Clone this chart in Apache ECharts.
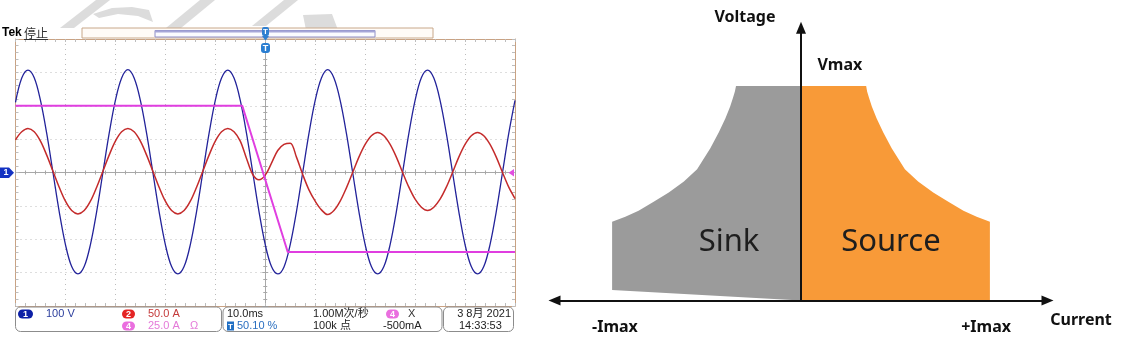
<!DOCTYPE html>
<html>
<head>
<meta charset="utf-8">
<script src="https://cdn.jsdelivr.net/npm/echarts@6/dist/echarts.min.js"></script>
<style>
  html, body { margin: 0; padding: 0; background: #ffffff; }
  #chart { width: 1121px; height: 346px; }
</style>
</head>
<body>
<div id="chart"></div>
<script>
// ---- Scope capture: 10 ms/div, samples every 1.25 ms from -50 ms ----
const sampleStartMs = -50;
const sampleStepMs = 1.25;

// CH1 voltage (V), 100 V/div
const ch1Volts = [
  210, 283,
  307, 284, 216, 117, 0, -117, -216, -282, -304, -282, -216, -117, 0, 117, 216, 283,
  308, 283, 216, 117, 0, -117, -216, -282, -304, -282, -216, -117, 0, 117, 216, 283,
  307, 283, 216, 117, 0, -117, -216, -282, -304, -283, -216, -117, 0, 117, 216, 283,
  308, 283, 216, 117, 0, -117, -216, -282, -304, -282, -216, -117, 0, 117, 216, 284,
  307, 283, 216, 117, 0, -117, -216, -282, -304, -282, -216, -117, 0, 117, 216
];

// CH2 current (A), 50 A/div
const ch2Amps = [
  49, 61,
  66, 61, 47, 26, 2, -22, -43, -57, -62, -57, -43, -22, 2, 26, 47, 61,
  66, 61, 47, 26, 2, -22, -43, -57, -62, -57, -43, -22, 2, 26, 47, 61,
  66, 61, 47, 21, -3, -11, -4, 14, 33, 42, 44, 23, -3, -26, -43, -56,
  -63, -57, -43, -23, 0, 23, 42, 55, 60, 55, 42, 23, 0, -22, -40, -52,
  -57, -52, -40, -22, 0, 23, 42, 55, 60, 55, 42, 23, 0, -22, -39
];

// CH4 current reference (A), 25 A/div
const ch4TimesMs = [-50, -4.6, 4.5, 50];
const ch4Amps = [50, 50, -59.5, -59.5];

// ---- Operating envelope: current in units of Imax, voltage in units of Vmax ----
const sourceCurrent = [0, 0, 0.345, 0.35, 0.36, 0.375, 0.40, 0.435, 0.48, 0.55, 0.62, 0.70, 0.78, 0.86, 0.93, 1.0, 1.0];
const sourceVoltage = [0, 1, 1, 0.975, 0.945, 0.905, 0.85, 0.785, 0.71, 0.612, 0.555, 0.503, 0.46, 0.418, 0.39, 0.367, 0];
const sinkCurrent = [0, 0, -0.344, -0.35, -0.36, -0.375, -0.40, -0.435, -0.48, -0.55, -0.62, -0.70, -0.78, -0.86, -0.93, -1.0, -1.0];
const sinkVoltage = [0, 1, 1, 0.975, 0.945, 0.905, 0.85, 0.785, 0.71, 0.612, 0.555, 0.503, 0.46, 0.418, 0.39, 0.367, 0.049];

const envLabelText = ['Sink', 'Source', 'Vmax', '-Imax', '+Imax'];
const envLabelCurrent = [-0.381, 0.476, 0.206, -0.985, 0.98];
const envLabelVoltage = [0.274, 0.274, 1.095, -0.124, -0.124];

// ---- helpers ----
const sampleTimes = ch1Volts.map((_, i) => sampleStartMs + i * sampleStepMs);
const pairs = (xs, ys) => xs.map((x, i) => [x, ys[i]]);

const scopeBox = { left: 15.5, top: 39, width: 499.5, height: 267 };
const scopeFont = '"Liberation Sans", Arial, "Noto Sans CJK SC", sans-serif';
const diagFont = '"Noto Sans", "Open Sans", sans-serif';

function hiddenAxis(grid, min, max) {
  return { type: 'value', gridIndex: grid, min: min, max: max, show: false };
}
function edgeAxis(grid, pos, min, max, dotted) {
  return {
    type: 'value', gridIndex: grid, position: pos, min: min, max: max, interval: 1,
    axisLine: { show: true, onZero: false, lineStyle: { color: '#c9a283', width: 1 } },
    axisTick: { show: true, inside: true, length: 3, lineStyle: { color: '#bdbdbd' } },
    minorTick: { show: true, splitNumber: 5, length: 3, lineStyle: { color: '#bdbdbd' } },
    axisLabel: { show: false },
    splitLine: { show: dotted, lineStyle: { color: '#bcbcbc', type: [1, 4], width: 1 } }
  };
}
function centerAxis(grid, pos, min, max) {
  return {
    type: 'value', gridIndex: grid, position: pos, min: min, max: max, interval: 1,
    axisLine: { show: true, onZero: true, lineStyle: { color: '#a8a8a8', width: 1 } },
    axisTick: { show: true, inside: false, length: 3, lineStyle: { color: '#a8a8a8' } },
    minorTick: { show: true, splitNumber: 5, length: 2, lineStyle: { color: '#a8a8a8' } },
    axisLabel: { show: false },
    splitLine: { show: false }
  };
}

function txt(x, y, text, fill, opts) {
  opts = opts || {};
  return {
    type: 'text', x: x, y: y, z: 20,
    style: {
      text: text, fill: fill,
      font: opts.font || ('11px ' + scopeFont),
      textAlign: opts.align || 'left', align: opts.align || 'left',
      textVerticalAlign: 'middle', verticalAlign: 'middle'
    }
  };
}
function badge(x, y, w, h, fill, label) {
  return [
    { type: 'rect', z: 19, shape: { x: x, y: y, width: w, height: h, r: h / 2 }, style: { fill: fill } },
    txt(x + w / 2, y + h / 2 + 0.5, label, '#ffffff', { align: 'center', font: 'bold 9px ' + scopeFont })
  ];
}
function panel(x, w) {
  return { type: 'rect', z: 18, shape: { x: x, y: 307, width: w, height: 24.5, r: 5 },
           style: { fill: '#ffffff', stroke: '#8c8c8c', lineWidth: 1 } };
}

const wmStyle = { fill: '#dcdcdc' };
const graphics = [
  // faint diagonal strokes across the header
  { type: 'polygon', z: 1, shape: { points: [[60, 28], [74, 28], [110, 0], [96, 0]] }, style: wmStyle },
  { type: 'polygon', z: 1, shape: { points: [[93, 14], [112, 8], [132, 7], [149, 10], [153, 22], [138, 16], [118, 14], [99, 18]] }, style: wmStyle },
  { type: 'polygon', z: 1, shape: { points: [[166, 28], [181, 28], [215, 0], [200, 0]] }, style: wmStyle },
  { type: 'polygon', z: 1, shape: { points: [[252, 26], [266, 26], [298, 0], [284, 0]] }, style: wmStyle },
  { type: 'polygon', z: 1, shape: { points: [[303, 15], [332, 14], [338, 30], [306, 30]] }, style: wmStyle },

  // header
  txt(2, 33, 'Tek', '#000000', { font: 'bold 12px ' + scopeFont }),
  txt(24, 33, '停止', '#333333', { font: '12px "Noto Sans CJK SC", sans-serif' }),
  { type: 'line', z: 20, shape: { x1: 24, y1: 39.5, x2: 48, y2: 39.5 }, style: { stroke: '#333333', lineWidth: 1 } },

  // record window bar
  { type: 'rect', z: 10, shape: { x: 82, y: 28, width: 351, height: 10 }, style: { fill: '#fffbf7', stroke: '#c8a88a', lineWidth: 1 } },
  { type: 'rect', z: 11, shape: { x: 155, y: 30.5, width: 220, height: 6.5 }, style: { fill: '#fbfbff', stroke: '#8e8ec8', lineWidth: 1 } },
  { type: 'line', z: 11, shape: { x1: 155, y1: 31.5, x2: 375, y2: 31.5 }, style: { stroke: '#a6a6d8', lineWidth: 2 } },

  // trigger position markers
  { type: 'rect', z: 12, shape: { x: 262, y: 27, width: 7, height: 9, r: 2 }, style: { fill: '#2f7fd0' } },
  txt(265.5, 31.8, 'T', '#ffffff', { align: 'center', font: 'bold 8px ' + scopeFont }),
  { type: 'polygon', z: 12, shape: { points: [[262, 36], [269, 36], [265.5, 40.5]] }, style: { fill: '#2f7fd0' } },
  { type: 'rect', z: 12, shape: { x: 261, y: 43, width: 9, height: 10, r: 3 }, style: { fill: '#2a7ed2' } },
  txt(265.5, 48.3, 'T', '#ffffff', { align: 'center', font: 'bold 9px ' + scopeFont }),

  // CH1 ground marker and trigger level marker
  { type: 'polygon', z: 12, shape: { points: [[0, 167.5], [9, 167.5], [14, 172.7], [9, 178], [0, 178]] }, style: { fill: '#1432c2' } },
  txt(6, 173, '1', '#ffffff', { align: 'center', font: 'bold 9px ' + scopeFont }),
  { type: 'polygon', z: 12, shape: { points: [[508.5, 172.7], [514, 169], [514, 176.5]] }, style: { fill: '#e24ee0' } },

  // status panels
  panel(15.5, 206),
  panel(223, 219),
  panel(443.5, 70)
].concat(
  badge(18, 309.5, 15, 9, '#0c1fa6', '1'),
  [txt(46, 314, '100 V', '#2b3d9c')],
  badge(122, 309.5, 13, 9, '#e42424', '2'),
  [txt(148, 314, '50.0 A', '#c43a3a')],
  badge(122, 321.5, 13, 9, '#ea6fdf', '4'),
  [txt(148, 326, '25.0 A', '#e47ad8'), txt(190, 326, 'Ω', '#e47ad8')],
  [txt(227, 314, '10.0ms', '#222222')],
  [{ type: 'rect', z: 19, shape: { x: 227, y: 321.5, width: 7, height: 9 }, style: { fill: '#1f6fc4' } },
   txt(230.5, 326.3, 'T', '#ffffff', { align: 'center', font: 'bold 8px ' + scopeFont }),
   txt(237, 326, '50.10 %', '#2a6fc0')],
  [txt(313, 314, '1.00M次/秒', '#222222'), txt(313, 326, '100k 点', '#222222')],
  badge(386, 309.5, 13, 9, '#ea6fdf', '4'),
  [txt(408, 314, 'X', '#333333'), txt(383, 326, '-500mA', '#222222')],
  [txt(511, 314, '3 8月 2021', '#222222', { align: 'right' }), txt(459, 326, '14:33:53', '#222222')],
  [
    // envelope axis names
    txt(745, 17.5, 'Voltage', '#111111', { align: 'center', font: 'bold 16px ' + diagFont }),
    txt(1081, 320, 'Current', '#111111', { align: 'center', font: 'bold 16px ' + diagFont })
  ]
);

const chart = echarts.init(document.getElementById('chart'), null, { renderer: 'canvas' });

const option = {
  animation: false,
  backgroundColor: '#ffffff',
  grid: [
    Object.assign({}, scopeBox),   // 0: CH1
    Object.assign({}, scopeBox),   // 1: CH2
    Object.assign({}, scopeBox),   // 2: CH4
    Object.assign({}, scopeBox),   // 3: graticule frame
    Object.assign({}, scopeBox),   // 4: graticule centre lines
    { left: 554.5, top: 27.7, width: 493, height: 272.8 }  // 5: envelope
  ],
  xAxis: [
    hiddenAxis(0, -50, 50),
    hiddenAxis(1, -50, 50),
    hiddenAxis(2, -50, 50),
    edgeAxis(3, 'bottom', -5, 5, true),
    edgeAxis(3, 'top', -5, 5, false),
    centerAxis(4, 'bottom', -5, 5),
    centerAxis(4, 'top', -5, 5),
    {
      type: 'value', gridIndex: 5, min: -1.305, max: 1.305, z: 5,
      axisLine: { show: true, onZero: true, symbol: ['triangle', 'triangle'], symbolSize: [10, 12],
                  lineStyle: { color: '#111111', width: 2 } },
      axisTick: { show: false }, axisLabel: { show: false }, splitLine: { show: false }
    }
  ],
  yAxis: [
    hiddenAxis(0, -400, 400),
    hiddenAxis(1, -200, 200),
    hiddenAxis(2, -100, 100),
    edgeAxis(3, 'left', -4, 4, true),
    edgeAxis(3, 'right', -4, 4, false),
    centerAxis(4, 'left', -4, 4),
    centerAxis(4, 'right', -4, 4),
    {
      type: 'value', gridIndex: 5, min: 0, max: 1.272, z: 5,
      axisLine: { show: true, onZero: true, symbol: ['none', 'triangle'], symbolSize: [10, 12],
                  lineStyle: { color: '#111111', width: 2 } },
      axisTick: { show: false }, axisLabel: { show: false }, splitLine: { show: false }
    }
  ],
  series: [
    {
      name: 'CH1', type: 'line', xAxisIndex: 0, yAxisIndex: 0, smooth: 0.35, showSymbol: false,
      data: pairs(sampleTimes, ch1Volts), lineStyle: { color: '#23239a', width: 1.3 }
    },
    {
      name: 'CH2', type: 'line', xAxisIndex: 1, yAxisIndex: 1, smooth: 0.35, showSymbol: false,
      data: pairs(sampleTimes, ch2Amps), lineStyle: { color: '#c42b2b', width: 1.5 }
    },
    {
      name: 'CH4', type: 'line', xAxisIndex: 2, yAxisIndex: 2, showSymbol: false,
      data: pairs(ch4TimesMs, ch4Amps), lineStyle: { color: '#e03ee0', width: 2 }
    },
    {
      name: 'Sink', type: 'custom', xAxisIndex: 7, yAxisIndex: 7, data: [[0, 0]],
      renderItem: function (params, api) {
        const pts = sinkCurrent.map((c, i) => api.coord([c, sinkVoltage[i]]));
        return { type: 'polygon', shape: { points: pts }, style: { fill: '#9b9b9b' } };
      }
    },
    {
      name: 'Source', type: 'custom', xAxisIndex: 7, yAxisIndex: 7, data: [[0, 0]],
      renderItem: function (params, api) {
        const pts = sourceCurrent.map((c, i) => api.coord([c, sourceVoltage[i]]));
        return { type: 'polygon', shape: { points: pts }, style: { fill: '#f89a38' } };
      }
    },
    {
      name: 'labels', type: 'custom', xAxisIndex: 7, yAxisIndex: 7, z: 10,
      data: pairs(envLabelCurrent, envLabelVoltage),
      renderItem: function (params, api) {
        const p = api.coord([api.value(0), api.value(1)]);
        const t = envLabelText[params.dataIndex];
        const big = params.dataIndex < 2;
        return {
          type: 'text', x: p[0], y: p[1],
          style: {
            text: t, fill: big ? '#1e1e1e' : '#111111',
            font: (big ? '31px ' : 'bold 16px ') + diagFont,
            textAlign: 'center', align: 'center', textVerticalAlign: 'middle', verticalAlign: 'middle'
          }
        };
      }
    }
  ],
  graphic: { elements: graphics }
};

chart.setOption(option);
</script>
</body>
</html>
